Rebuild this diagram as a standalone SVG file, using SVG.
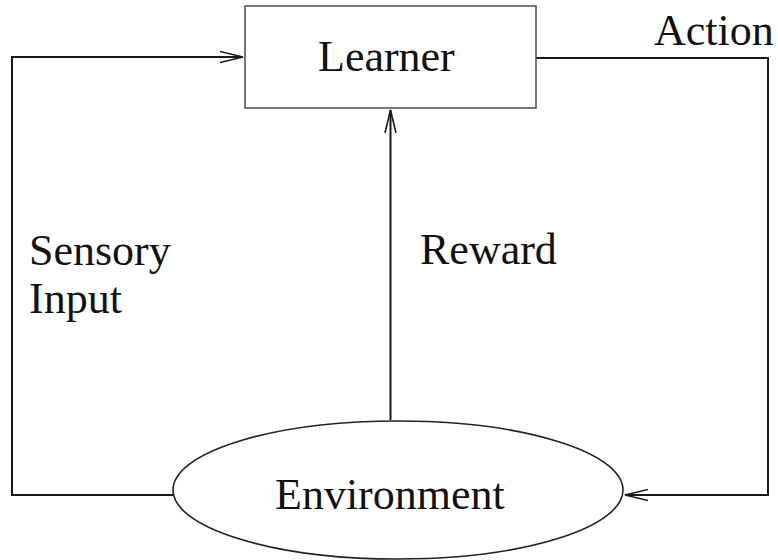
<svg xmlns="http://www.w3.org/2000/svg" width="778" height="560" viewBox="0 0 778 560">
<style>
text{font-family:"Liberation Serif","Times New Roman",serif;font-size:44px;fill:#111}
.c{fill:none;stroke:#1a1a1a;stroke-width:2}
.n{fill:#fff;stroke:#555;stroke-width:1.6}
.e{fill:#fff;stroke:#222;stroke-width:1.6}
</style>
<defs>
<marker id="a" viewBox="0 0 24 14" refX="23" refY="7" markerWidth="24" markerHeight="14" markerUnits="userSpaceOnUse" orient="auto">
<path d="M0,1.5 L23,7 L0,12.5" fill="none" stroke="#1a1a1a" stroke-width="1.6"/>
</marker>
</defs>
<g id="connectors">
<path class="c" d="M173,495 H12 V57 H243" marker-end="url(#a)"/>
<path class="c" d="M536,58 H768 V495 H625" marker-end="url(#a)"/>
<path class="c" d="M390.5,420 V110" marker-end="url(#a)"/>
</g>
<g id="learner">
<rect class="n" x="245" y="6" width="291" height="102"/>
<text x="318" y="71">Learner</text>
</g>
<g id="environment">
<ellipse class="e" cx="398" cy="490" rx="225" ry="69"/>
<text x="275" y="509">Environment</text>
</g>
<g id="labels">
<text x="654" y="45">Action</text>
<text x="29" y="265">Sensory</text>
<text x="29" y="313">Input</text>
<text x="420" y="264">Reward</text>
</g>
</svg>
